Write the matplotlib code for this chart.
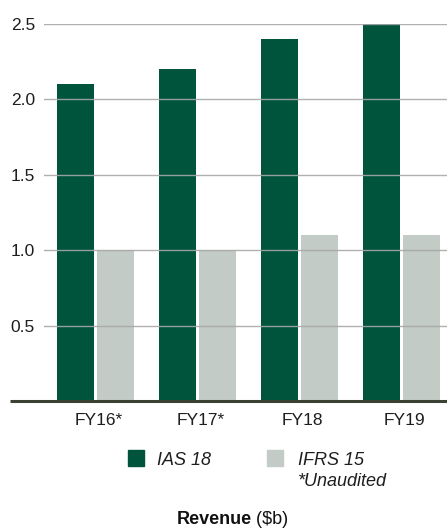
import matplotlib
matplotlib.use("Agg")
import matplotlib.pyplot as plt
from matplotlib.patches import Rectangle
import numpy as np

plt.rcParams['font.family'] = ['Liberation Sans', 'DejaVu Sans']

categories = ["FY16*", "FY17*", "FY18", "FY19"]
ias18 = [2.1, 2.2, 2.4, 2.5]
ifrs15 = [1.0, 1.0, 1.1, 1.1]
yticks = [0.5, 1.0, 1.5, 2.0, 2.5]
legend_labels = ["IAS 18", "IFRS 15"]

green = "#00543c"
grey = "#c2cbc6"
txt = "#1e1e1e"

fig = plt.figure(figsize=(4.47, 5.28), dpi=100)
ax = fig.add_axes([44/447, (528-401)/528, 403/447, (401-24)/528])

x = np.arange(len(categories))
w = 37/102
off = 20/102
ax.bar(x - off, ias18, width=w, color=green, zorder=1)
ax.bar(x + off, ifrs15, width=w, color=grey, zorder=1)

for t in yticks:
    ax.axhline(t, color="#a8a8a8", lw=1.0, zorder=2, alpha=0.9)

ax.set_xlim(-0.505, 3.446)
ax.set_ylim(0, 2.5)
ax.set_yticks(yticks)
ax.set_yticklabels([f"{t:.1f}" for t in yticks])
ax.set_xticks(x + 0.03)
ax.set_xticklabels(categories)
ax.tick_params(axis='y', length=0, pad=6.5, labelsize=12.5, labelcolor=txt)
ax.tick_params(axis='x', length=0, pad=8.5, labelsize=12.5, labelcolor=txt)
for s in ax.spines.values():
    s.set_visible(False)

# baseline extending left
ax.plot([-34/403, 1.0], [0, 0], transform=ax.transAxes, color="#3a4234",
        lw=2.2, clip_on=False, zorder=3, solid_capstyle='butt')

# legend (manual)
def fx(px):
    return px / 447
def fy(py):
    return 1 - py / 528

fig.patches.append(Rectangle((fx(128), fy(466)), 16/447, 16/528, color=green,
                             transform=fig.transFigure, figure=fig))
fig.patches.append(Rectangle((fx(267), fy(466)), 16/447, 16/528, color=grey,
                             transform=fig.transFigure, figure=fig))
fig.text(fx(157), fy(465), legend_labels[0], style='italic', fontsize=13,
         va='baseline', ha='left', color=txt)
fig.text(fx(297.5), fy(465), legend_labels[1], style='italic', fontsize=13,
         va='baseline', ha='left', color=txt)
fig.text(fx(297.5), fy(485.5), "*Unaudited", style='italic', fontsize=13,
         va='baseline', ha='left', color=txt)

# title: bold "Revenue" + normal "($b)", centered together
r = fig.canvas.get_renderer()
t1 = fig.text(0, fy(523.5), "Revenue", fontweight='bold', fontsize=13,
              va='baseline', ha='left', color="#111111")
t2 = fig.text(0, fy(523.5), " ($b)", fontsize=13, va='baseline', ha='left',
              color="#111111")
w1 = t1.get_window_extent(r).width
w2 = t2.get_window_extent(r).width
left = 232.5 - (w1 + w2) / 2
t1.set_x(left / 447)
t2.set_x((left + w1) / 447)

fig.savefig("out.png", dpi=100)
